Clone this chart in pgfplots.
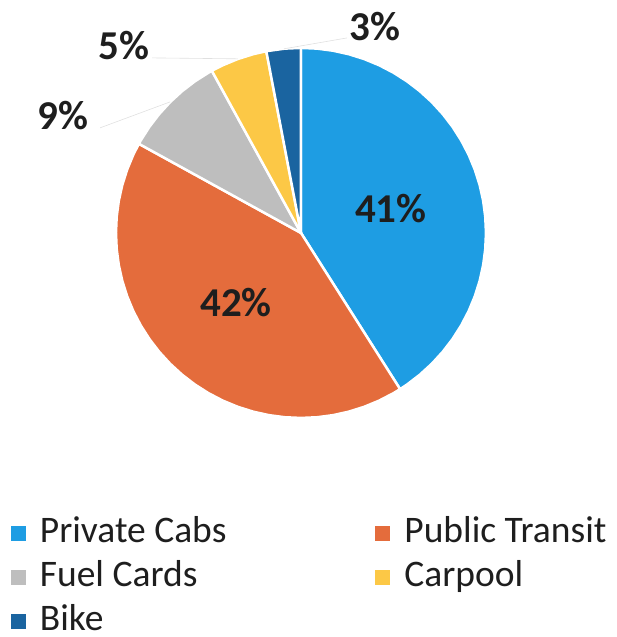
\documentclass[border=0pt]{standalone}
\usepackage{pgfplots}
\pgfplotsset{compat=1.18}
\usepackage{fontspec}
\setmainfont{Carlito}
\definecolor{cabs}{HTML}{1E9DE3}
\definecolor{transit}{HTML}{E46C3C}
\definecolor{fuel}{HTML}{BEBEBE}
\definecolor{carpool}{HTML}{FCC846}
\definecolor{bike}{HTML}{1A64A0}
\definecolor{txt}{HTML}{1E1E1E}
\begin{document}
\begin{tikzpicture}
\begin{axis}[
  scale only axis, width=616pt, height=637pt,
  xmin=-1.627, xmax=1.703, ymin=-2.184, ymax=1.259,
  axis line style={draw=none}, xtick=\empty, ytick=\empty,
  clip=false,
  slice/.style={line width=2.5pt, draw=white, line join=round},
  legend image code/.code={\fill[#1,draw=none] (0pt,-11pt) rectangle (15pt,4pt);},
  legend style={at={(axis cs:-1.568,-1.535)}, anchor=north west, draw=none, fill=none,
    inner sep=0pt, outer sep=0pt, text=txt,
    font=\fontsize{37.5}{43}\selectfont, row sep=18pt,
    nodes={inner sep=0pt, text height=26pt, text depth=0pt},
    /tikz/column 1/.style={column sep=14pt},
    /tikz/column 2/.style={column sep=149pt},
    /tikz/column 3/.style={column sep=14pt}},
  legend columns=2, legend cell align=left,
]
% Private Cabs 41%
\addplot[slice, fill=cabs, data cs=polar] coordinates {(0,0) (-57.6,1) (-55,1) (-50,1) (-45,1) (-40,1) (-35,1) (-30,1) (-25,1) (-20,1) (-15,1) (-10,1) (-5,1) (0,1) (5,1) (10,1) (15,1) (20,1) (25,1) (30,1) (35,1) (40,1) (45,1) (50,1) (55,1) (60,1) (65,1) (70,1) (75,1) (80,1) (85,1) (90,1) (0,0)} -- cycle;
\addlegendentry{Private Cabs}
% Public Transit 42%
\addplot[slice, fill=transit, data cs=polar] coordinates {(0,0) (151.2,1) (155,1) (160,1) (165,1) (170,1) (175,1) (180,1) (185,1) (190,1) (195,1) (200,1) (205,1) (210,1) (215,1) (220,1) (225,1) (230,1) (235,1) (240,1) (245,1) (250,1) (255,1) (260,1) (265,1) (270,1) (275,1) (280,1) (285,1) (290,1) (295,1) (300,1) (302.4,1) (0,0)} -- cycle;
\addlegendentry{Public Transit}
% Fuel Cards 9%
\addplot[slice, fill=fuel, data cs=polar] coordinates {(0,0) (118.8,1) (120,1) (125,1) (130,1) (135,1) (140,1) (145,1) (150,1) (151.2,1) (0,0)} -- cycle;
\addlegendentry{Fuel Cards}
% Carpool 5%
\addplot[slice, fill=carpool, data cs=polar] coordinates {(0,0) (100.8,1) (105,1) (110,1) (115,1) (118.8,1) (0,0)} -- cycle;
\addlegendentry{Carpool}
% Bike 3%
\addplot[slice, fill=bike, data cs=polar] coordinates {(0,0) (90,1) (95,1) (100.8,1) (0,0)} -- cycle;
\addlegendentry{Bike}
% leader lines
\addplot[forget plot, black!12, line width=0.6pt] coordinates {(-1.086,0.568) (-0.708,0.708)};
\addplot[forget plot, black!12, line width=0.6pt] coordinates {(-0.805,0.946) (-0.341,0.941)};
\addplot[forget plot, black!12, line width=0.6pt] coordinates {(0.249,1.054) (-0.092,0.995)};
% labels
\begin{scope}[every node/.style={font=\fontsize{41}{49}\selectfont\bfseries, text=txt, inner sep=0pt}]
\node at (axis cs:0.486,0.130) {41\%};
\node at (axis cs:-0.351,-0.378) {42\%};
\node at (axis cs:-1.286,0.632) {9\%};
\node at (axis cs:-0.957,1.011) {5\%};
\node at (axis cs:0.400,1.114) {3\%};
\end{scope}
\end{axis}
\pgfresetboundingbox
\path[use as bounding box] (current axis.south west) rectangle (current axis.north east);
\end{tikzpicture}
\end{document}
